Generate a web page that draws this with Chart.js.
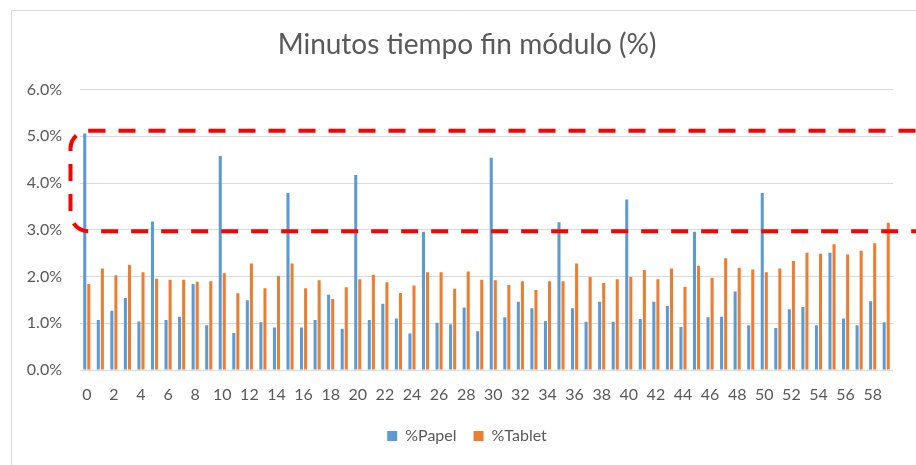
<!DOCTYPE html>
<html>
<head>
<meta charset="utf-8">
<script src="https://cdn.jsdelivr.net/npm/chart.js@4"></script>
<style>
  html, body { margin: 0; padding: 0; background: #fff; overflow: hidden; }
  #wrap { position: relative; width: 916px; height: 465px; }
</style>
</head>
<body>
<div id="wrap"><canvas id="modChart"></canvas></div>
<script>
// Data (values in %)
const minutos = Array.from({ length: 60 }, (_, i) => String(i));
const papel = [5.06, 1.07, 1.27, 1.54, 1.04, 3.18, 1.07, 1.14, 1.84, 0.96,
    4.58, 0.79, 1.49, 1.02, 0.91, 3.79, 0.91, 1.07, 1.61, 0.88,
    4.17, 1.07, 1.42, 1.10, 0.78, 2.96, 1.01, 0.98, 1.34, 0.83,
    4.54, 1.13, 1.46, 1.32, 1.05, 3.16, 1.32, 1.03, 1.46, 1.03,
    3.65, 1.09, 1.46, 1.37, 0.92, 2.96, 1.13, 1.14, 1.68, 0.96,
    3.79, 0.90, 1.30, 1.35, 0.96, 2.51, 1.10, 0.96, 1.47, 1.02];
const tablet = [1.84, 2.17, 2.03, 2.25, 2.09, 1.95, 1.93, 1.93, 1.89, 1.90,
    2.07, 1.64, 2.28, 1.75, 2.01, 2.28, 1.75, 1.92, 1.52, 1.77,
    1.94, 2.04, 1.88, 1.65, 1.81, 2.09, 2.09, 1.74, 2.11, 1.93,
    1.92, 1.82, 1.90, 1.71, 1.90, 1.90, 2.28, 1.99, 1.86, 1.94,
    1.99, 2.14, 1.94, 2.17, 1.78, 2.23, 1.97, 2.39, 2.19, 2.15,
    2.09, 2.17, 2.33, 2.51, 2.49, 2.69, 2.47, 2.55, 2.71, 3.15];
const yTicks = [0, 1, 2, 3, 4, 5, 6];
const highlightRange = [2.97, 5.12]; // band marked with the red dashed box

const FONT = 'Lato, "Open Sans", sans-serif';
const GREY = '#595959';

// outer frame + red dashed highlight box
const overlay = {
    id: 'overlay',
    beforeDraw(chart) {
        const ctx = chart.ctx;
        ctx.save();
        ctx.strokeStyle = '#d9d9d9';
        ctx.lineWidth = 1;
        ctx.beginPath();
        ctx.moveTo(11.5, chart.height);
        ctx.lineTo(11.5, 10.5);
        ctx.lineTo(chart.width, 10.5);
        ctx.stroke();
        ctx.restore();
    },
    afterDatasetsDraw(chart) {
        const ctx = chart.ctx;
        const y = chart.scales.y;
        const top = y.getPixelForValue(highlightRange[1]);
        const bottom = y.getPixelForValue(highlightRange[0]);
        const left = chart.chartArea.left - 9.5;
        const right = chart.width + 30;
        ctx.save();
        ctx.strokeStyle = '#ff0000';
        ctx.lineWidth = 4;
        ctx.setLineDash([17, 13]);
        ctx.beginPath();
        ctx.roundRect(left, top, right - left, bottom - top, 18);
        ctx.stroke();
        ctx.restore();
    }
};

const ctx = document.getElementById('modChart').getContext('2d');
new Chart(ctx, {
    type: 'bar',
    data: {
        labels: minutos,
        datasets: [
            { label: '%Papel', data: papel, backgroundColor: '#5b9bd5' },
            { label: '%Tablet', data: tablet, backgroundColor: '#ed7d31' }
        ]
    },
    options: {
        responsive: true,
        maintainAspectRatio: false,
        animation: false,
        events: [],
        datasets: {
            bar: { categoryPercentage: 0.6, barPercentage: 0.75 }
        },
        layout: { padding: { left: 20, right: 2, top: 0, bottom: 11 } },
        plugins: {
            title: {
                display: true,
                text: 'Minutos tiempo fin módulo (%)',
                color: GREY,
                font: { family: FONT, size: 28, weight: 'normal' },
                padding: { top: 28, bottom: 28 }
            },
            legend: {
                position: 'bottom',
                labels: {
                    color: GREY,
                    font: { family: FONT, size: 16 },
                    boxWidth: 10,
                    boxHeight: 10,
                    padding: 17
                }
            },
            tooltip: { enabled: false }
        },
        scales: {
            x: {
                grid: { display: false, drawTicks: false },
                border: { display: false },
                ticks: {
                    color: GREY,
                    font: { family: FONT, size: 16 },
                    autoSkip: false,
                    maxRotation: 0,
                    padding: 15,
                    callback: (v, i) => (i % 2 === 0 ? minutos[i] : '')
                },
                afterFit: s => { s.height = 41; }
            },
            y: {
                min: yTicks[0],
                max: yTicks[yTicks.length - 1],
                afterBuildTicks: s => { s.ticks = yTicks.map(v => ({ value: v })); },
                grid: { color: '#d9d9d9', drawTicks: false },
                border: { display: false },
                ticks: {
                    color: GREY,
                    font: { family: FONT, size: 16 },
                    padding: 18,
                    callback: v => v.toFixed(1) + '%'
                },
                afterFit: s => { s.width = 60; }
            },
            // empty right-hand strip, the chart frame runs a little past the plot
            side: {
                position: 'right',
                grid: { display: false, drawTicks: false },
                border: { display: false },
                ticks: { display: false },
                afterFit: s => { s.width = 21; }
            }
        }
    },
    plugins: [overlay]
});
</script>
</body>
</html>
